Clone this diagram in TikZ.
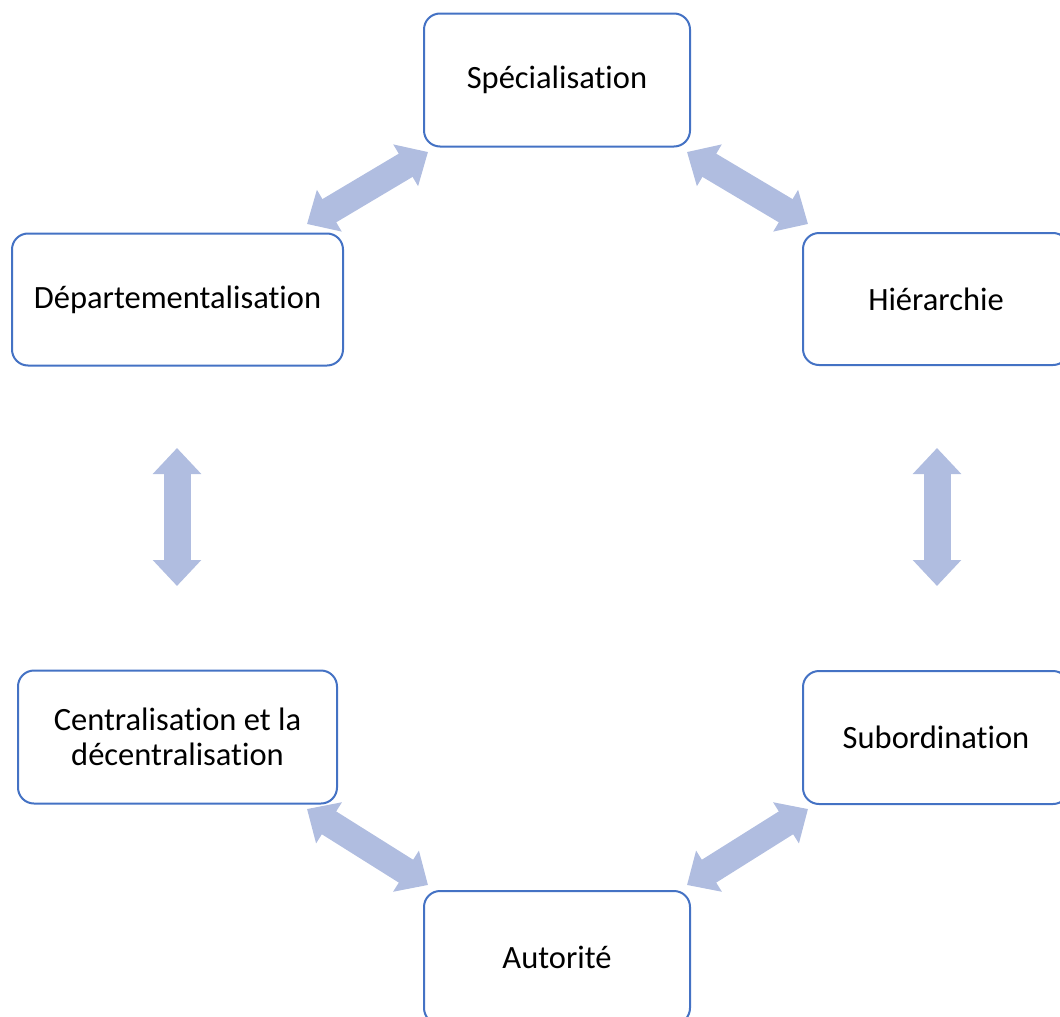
\documentclass[tikz,border=0pt]{standalone}
\usepackage{fontspec}
\setmainfont[RawFeature={-liga}]{Carlito}
\usetikzlibrary{arrows.meta}
\definecolor{boxblue}{RGB}{68,114,196}
\definecolor{arrowfill}{RGB}{176,189,224}
\begin{document}
\begin{tikzpicture}[x=1pt,y=-1pt,
  box/.style={draw=boxblue, line width=2pt, rounded corners=16pt, fill=white,
    minimum height=133pt, align=center, inner sep=0pt,
    font=\fontsize{32.5}{35}\selectfont},
  dblarrow/.style={draw=arrowfill, line width=27pt,
    {Triangle[length=26pt,width=47pt]}-{Triangle[length=26pt,width=47pt]}}
]
\useasboundingbox (0,0) rectangle (1060,1017);
\clip (0,0) rectangle (1060,1017);
\node[box, minimum width=266pt] (spec) at (557,80) {Spécialisation};
\node[box, minimum width=331pt, minimum height=132pt] (dep) at (177.5,299.5) {Départementalisation};
\node[box, minimum width=266pt, minimum height=132pt] (hier) at (936,299) {Hiérarchie};
\node[box, minimum width=319pt] (cent) at (177.5,737) {Centralisation et la\\décentralisation};
\node[box, minimum width=266pt] (sub) at (936,737.5) {Subordination};
\node[box, minimum width=266pt] (aut) at (557,957.5) {Autorité};
% arrow end points
\coordinate (a1) at (307,224);
\coordinate (a2) at (428,152);
\coordinate (b1) at (687,152);
\coordinate (b2) at (808,224);
\coordinate (c1) at (177,448);
\coordinate (c2) at (177,586);
\coordinate (d1) at (937,448);
\coordinate (d2) at (937,586);
\coordinate (e1) at (307,809);
\coordinate (e2) at (428,885);
\coordinate (f1) at (808,809);
\coordinate (f2) at (687,885);
\draw[dblarrow] (a1) -- (a2);
\draw[dblarrow] (b1) -- (b2);
\draw[dblarrow] (c1) -- (c2);
\draw[dblarrow] (d1) -- (d2);
\draw[dblarrow] (e1) -- (e2);
\draw[dblarrow] (f1) -- (f2);
\end{tikzpicture}
\end{document}
